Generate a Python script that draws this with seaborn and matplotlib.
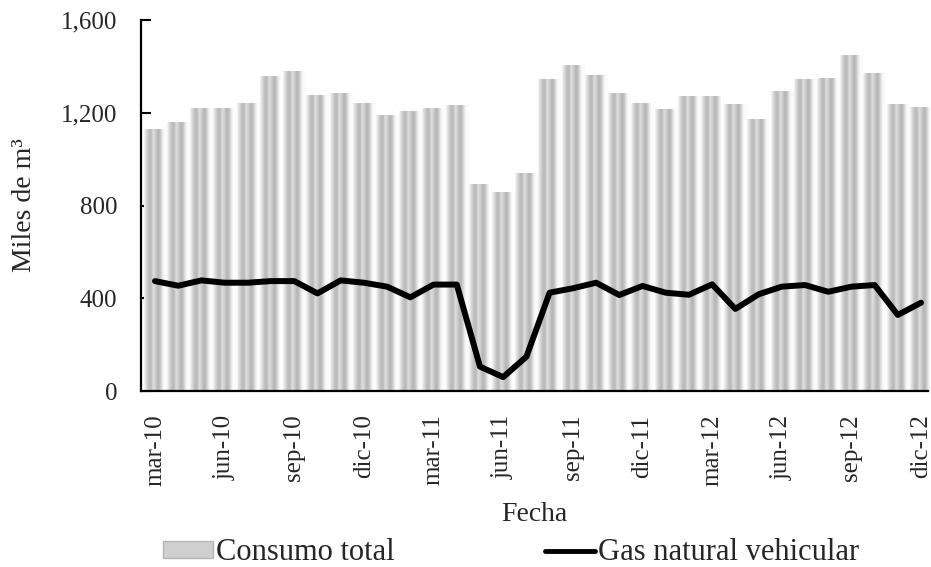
import numpy as np
import matplotlib
matplotlib.use("Agg")
import matplotlib.pyplot as plt
from matplotlib.patches import Rectangle
from matplotlib.lines import Line2D
from matplotlib.ticker import FuncFormatter
import seaborn as sns

# monthly data, mar-10 .. dic-12
meses = ["mar-10", "abr-10", "may-10", "jun-10", "jul-10", "ago-10", "sep-10", "oct-10",
         "nov-10", "dic-10", "ene-11", "feb-11", "mar-11", "abr-11", "may-11", "jun-11",
         "jul-11", "ago-11", "sep-11", "oct-11", "nov-11", "dic-11", "ene-12", "feb-12",
         "mar-12", "abr-12", "may-12", "jun-12", "jul-12", "ago-12", "sep-12", "oct-12",
         "nov-12", "dic-12"]
consumo_total = [1130, 1160, 1222, 1221, 1240, 1360, 1380, 1277, 1284, 1240, 1190, 1208,
                 1219, 1232, 892, 860, 940, 1345, 1405, 1362, 1284, 1240, 1215, 1274,
                 1274, 1238, 1172, 1295, 1344, 1351, 1449, 1373, 1238, 1223]
gas_vehicular = [474, 454, 477, 467, 467, 474, 474, 421, 477, 467, 450, 404,
                 459, 459, 105, 60, 148, 424, 443, 467, 414, 453, 424, 415,
                 460, 354, 417, 450, 457, 428, 450, 457, 328, 381]
etiquetas = meses[::3]

sns.set_style("white")
plt.rcParams['font.family'] = ['Liberation Serif', 'DejaVu Serif']
fs = 18

fig = plt.figure(figsize=(9.31, 5.67), dpi=100)
ax = fig.add_axes([0.1515, 0.3104, 0.8453, 0.6543])

sns.barplot(x=meses, y=consumo_total, color="#c8c8c8", width=0.96, ax=ax)

# cylinder-like shading of the bars
perfil = np.array([0.96, 0.85, 0.75, 0.73, 0.87, 0.81, 0.71, 0.75, 0.91, 0.99, 0.98])
grad = np.interp(np.linspace(0, 1, 60), np.linspace(0, 1, len(perfil)), perfil)[None, :]
for p in ax.patches:
    x0, w, h = p.get_x(), p.get_width(), p.get_height()
    p.set_facecolor("none")
    p.set_edgecolor("none")
    im = ax.imshow(grad, extent=[x0, x0 + w, 0, h], cmap="gray", vmin=0, vmax=1,
                   aspect="auto", interpolation="bilinear", zorder=1.5)
    im.set_clip_path(p)

sns.lineplot(x=np.arange(len(meses)), y=gas_vehicular, color="black", linewidth=4.3,
             ax=ax, legend=False, zorder=3)

ax.set_xlim(-0.6, 33.3)
ax.set_ylim(0, 1600)
ax.set_yticks([0, 400, 800, 1200, 1600])
ax.yaxis.set_major_formatter(FuncFormatter(lambda v, _: f"{v:,.0f}"))
ax.set_xticks(np.arange(0, len(meses), 3))
ax.set_xticklabels(etiquetas, rotation=90)
ax.set_xticks(np.arange(2.5, len(meses), 3), minor=True)
ax.tick_params(axis="x", which="major", length=0, pad=17, labelsize=fs)
ax.tick_params(axis="x", which="minor", direction="in", length=7, width=1.5, color="black")
ax.tick_params(axis="y", direction="in", length=7, width=1.5, color="black", pad=17, labelsize=fs)
ax.tick_params(left=True, bottom=True)

for s in ["top", "right"]:
    ax.spines[s].set_visible(False)
for s in ["left", "bottom"]:
    ax.spines[s].set_color("black")
    ax.spines[s].set_linewidth(1.6)
    ax.spines[s].set_zorder(4)

ax.set_xlabel("Fecha", fontsize=20)
ax.xaxis.set_label_coords(0.5, -0.30)
ax.set_ylabel("Miles de m³", fontsize=20)
ax.yaxis.set_label_coords(-0.132, 0.5)

handles = [Rectangle((0, 0), 1, 1, facecolor="#cfcfcf", edgecolor="#b5b5b5"),
           Line2D([], [], color="black", linewidth=3.5)]
fig.legend(handles, ["Consumo total", "Gas natural vehicular"], loc="center",
           bbox_to_anchor=(0.549, 0.025), ncol=2, frameon=False, fontsize=22,
           handlelength=1.64, handleheight=0.45, handletextpad=0.1, columnspacing=4.9)

fig.savefig("out.png", dpi=100)
